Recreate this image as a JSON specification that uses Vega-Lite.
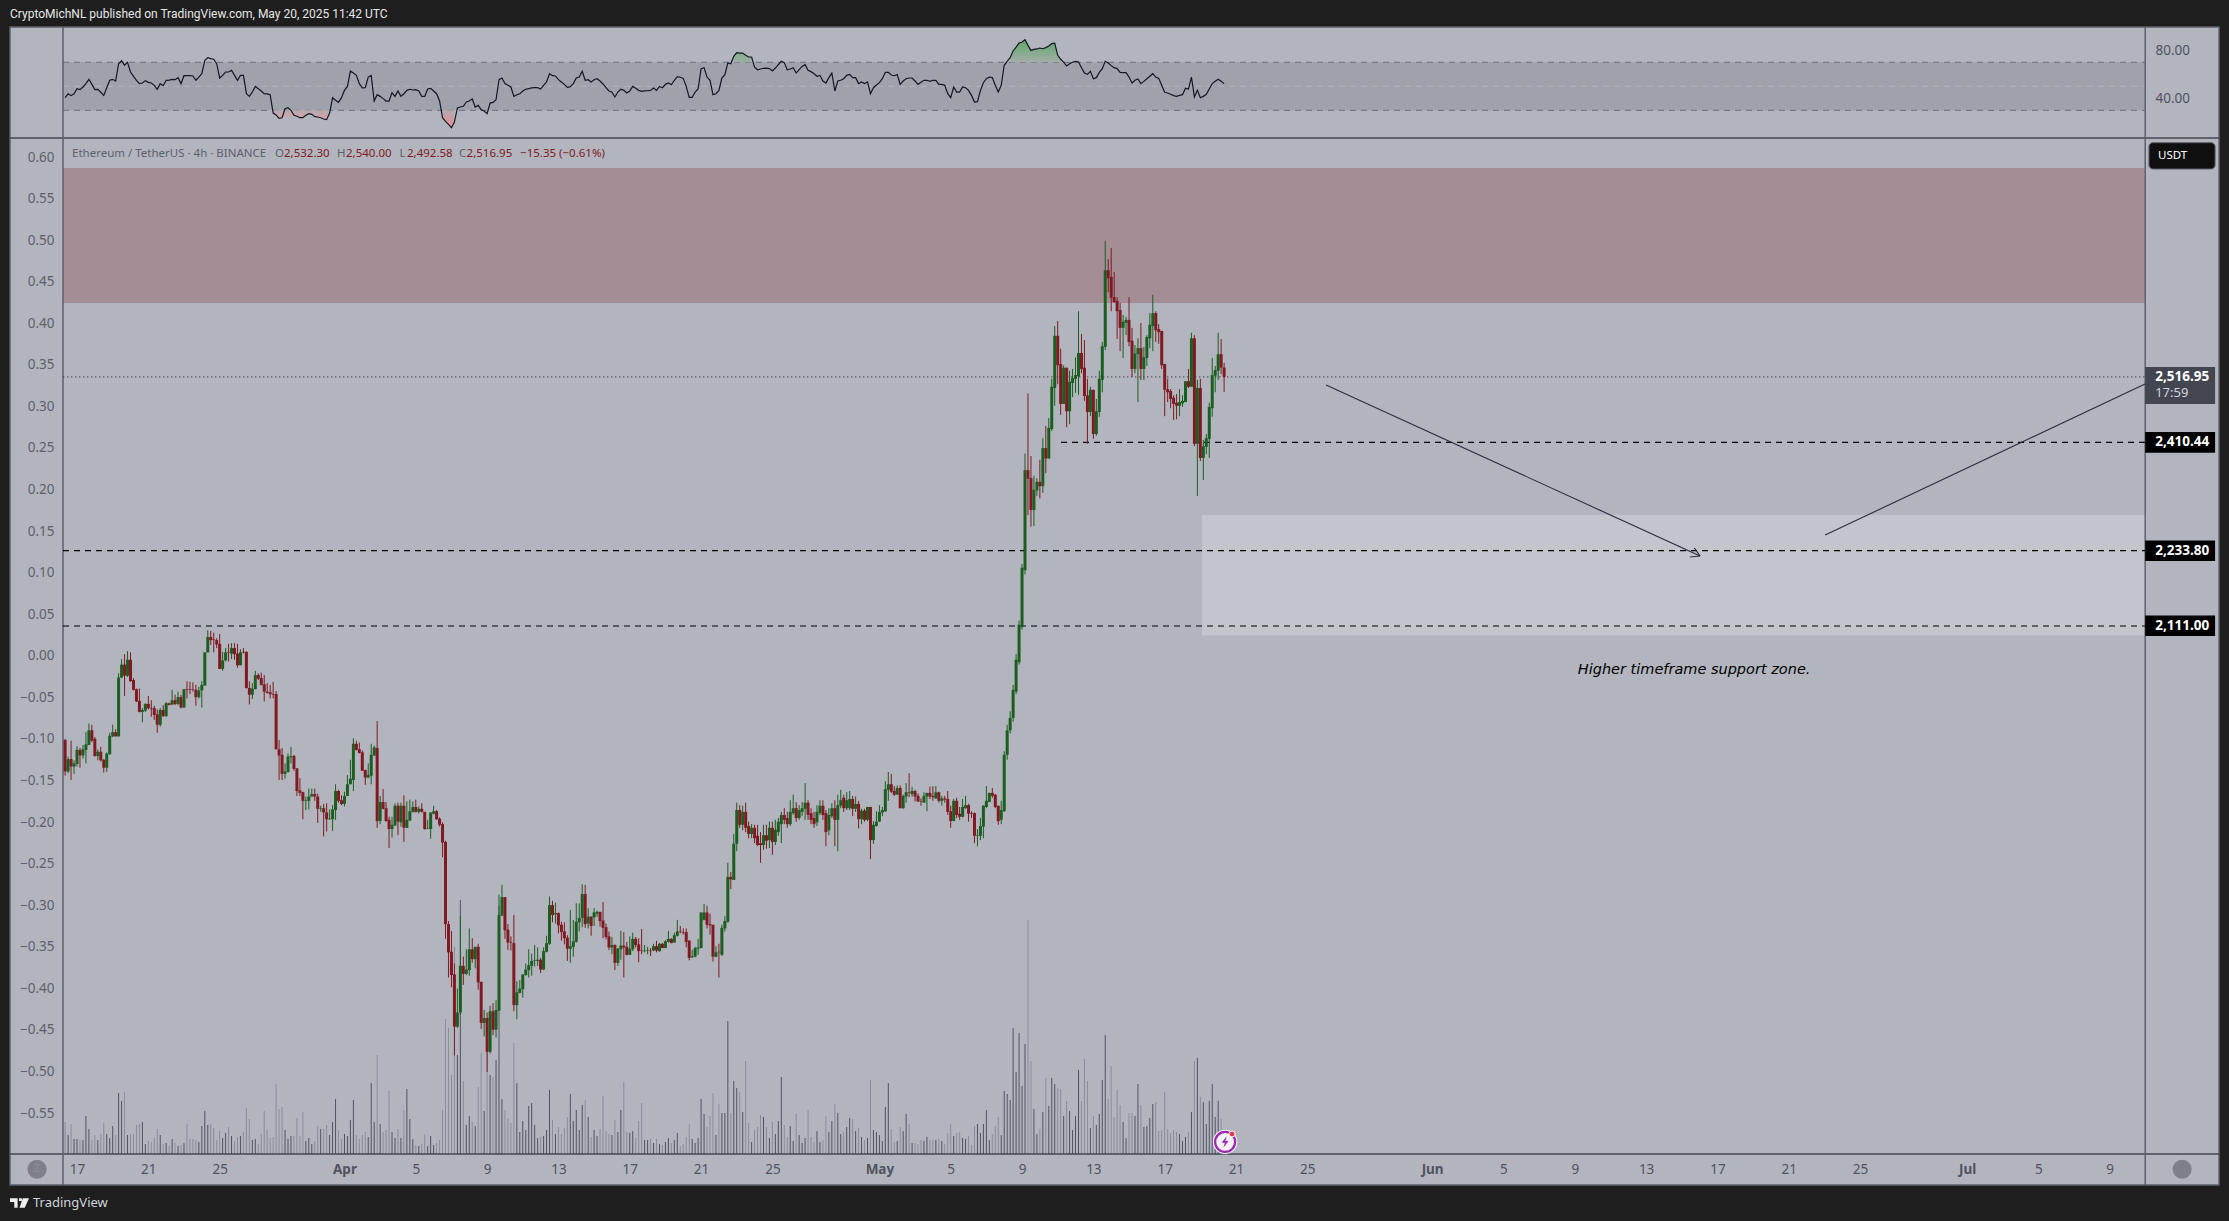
{"$schema":"https://vega.github.io/schema/vega-lite/v6.json","width":2229,"height":1221,"padding":0,"autosize":{"type":"none"},"background":"#1e1e1e","config":{"view":{"stroke":null},"text":{"font":"Noto Sans"},"axis":{"labelFont":"Noto Sans"}},
"datasets":{"candles":[
{"t":"2025-03-16T08:00Z","o":1925,"h":1927,"l":1867,"c":1874,"v":32,"r":40.5},
{"t":"2025-03-16T12:00Z","o":1874,"h":1898,"l":1871,"c":1894,"v":19,"r":43.8},
{"t":"2025-03-16T16:00Z","o":1894,"h":1924,"l":1860,"c":1882,"v":30,"r":42.2},
{"t":"2025-03-16T20:00Z","o":1882,"h":1892,"l":1870,"c":1887,"v":15,"r":43.8},
{"t":"2025-03-17T00:00Z","o":1886,"h":1915,"l":1882,"c":1909,"v":15,"r":48},
{"t":"2025-03-17T04:00Z","o":1909,"h":1912,"l":1880,"c":1900,"v":14,"r":47.2},
{"t":"2025-03-17T08:00Z","o":1900,"h":1917,"l":1895,"c":1910,"v":14,"r":49.4},
{"t":"2025-03-17T12:00Z","o":1909,"h":1938,"l":1887,"c":1918,"v":38,"r":52.2},
{"t":"2025-03-17T16:00Z","o":1917,"h":1952,"l":1917,"c":1941,"v":25,"r":55.8},
{"t":"2025-03-17T20:00Z","o":1941,"h":1950,"l":1922,"c":1924,"v":14,"r":51.6},
{"t":"2025-03-18T00:00Z","o":1927,"h":1930,"l":1898,"c":1899,"v":19,"r":47.2},
{"t":"2025-03-18T04:00Z","o":1899,"h":1910,"l":1892,"c":1906,"v":14,"r":47.5},
{"t":"2025-03-18T08:00Z","o":1906,"h":1914,"l":1890,"c":1892,"v":20,"r":45},
{"t":"2025-03-18T12:00Z","o":1893,"h":1894,"l":1872,"c":1880,"v":31,"r":42.4},
{"t":"2025-03-18T16:00Z","o":1880,"h":1905,"l":1873,"c":1903,"v":20,"r":48.8},
{"t":"2025-03-18T20:00Z","o":1902,"h":1937,"l":1901,"c":1932,"v":16,"r":55},
{"t":"2025-03-19T00:00Z","o":1931,"h":1950,"l":1930,"c":1938,"v":28,"r":55.8},
{"t":"2025-03-19T04:00Z","o":1938,"h":1943,"l":1931,"c":1931,"v":19,"r":54.4},
{"t":"2025-03-19T08:00Z","o":1931,"h":2034,"l":1931,"c":2027,"v":61,"r":68.8},
{"t":"2025-03-19T12:00Z","o":2027,"h":2057,"l":2026,"c":2048,"v":53,"r":71.3},
{"t":"2025-03-19T16:00Z","o":2048,"h":2065,"l":1997,"c":2030,"v":62,"r":67.5},
{"t":"2025-03-19T20:00Z","o":2030,"h":2070,"l":2028,"c":2056,"v":19,"r":70},
{"t":"2025-03-20T00:00Z","o":2056,"h":2068,"l":2020,"c":2021,"v":20,"r":61.9},
{"t":"2025-03-20T04:00Z","o":2023,"h":2026,"l":2006,"c":2007,"v":20,"r":58.3},
{"t":"2025-03-20T08:00Z","o":2008,"h":2009,"l":1987,"c":1988,"v":29,"r":55},
{"t":"2025-03-20T12:00Z","o":1989,"h":2009,"l":1970,"c":1971,"v":30,"r":52.2},
{"t":"2025-03-20T16:00Z","o":1971,"h":1977,"l":1954,"c":1974,"v":32,"r":52.7},
{"t":"2025-03-20T20:00Z","o":1973,"h":1985,"l":1971,"c":1984,"v":10,"r":54.7},
{"t":"2025-03-21T00:00Z","o":1984,"h":1997,"l":1975,"c":1977,"v":13,"r":53.3},
{"t":"2025-03-21T04:00Z","o":1977,"h":1990,"l":1963,"c":1976,"v":12,"r":52.7},
{"t":"2025-03-21T08:00Z","o":1977,"h":1981,"l":1958,"c":1966,"v":16,"r":50.8},
{"t":"2025-03-21T12:00Z","o":1967,"h":1975,"l":1937,"c":1950,"v":25,"r":47.5},
{"t":"2025-03-21T16:00Z","o":1950,"h":1977,"l":1947,"c":1974,"v":19,"r":52.2},
{"t":"2025-03-21T20:00Z","o":1974,"h":1982,"l":1963,"c":1964,"v":10,"r":50.5},
{"t":"2025-03-22T00:00Z","o":1964,"h":1987,"l":1963,"c":1985,"v":11,"r":55},
{"t":"2025-03-22T04:00Z","o":1985,"h":1986,"l":1982,"c":1982,"v":8,"r":55.2},
{"t":"2025-03-22T08:00Z","o":1983,"h":2007,"l":1982,"c":1990,"v":15,"r":55.8},
{"t":"2025-03-22T12:00Z","o":1990,"h":1999,"l":1982,"c":1984,"v":11,"r":55.5},
{"t":"2025-03-22T16:00Z","o":1984,"h":2004,"l":1982,"c":1995,"v":8,"r":57.2},
{"t":"2025-03-22T20:00Z","o":1995,"h":1999,"l":1977,"c":1978,"v":9,"r":52.2},
{"t":"2025-03-23T00:00Z","o":1978,"h":2008,"l":1978,"c":2008,"v":11,"r":58.8},
{"t":"2025-03-23T04:00Z","o":2008,"h":2021,"l":1993,"c":2007,"v":30,"r":58.8},
{"t":"2025-03-23T08:00Z","o":2008,"h":2020,"l":2000,"c":2007,"v":15,"r":58.8},
{"t":"2025-03-23T12:00Z","o":2008,"h":2019,"l":2004,"c":2007,"v":15,"r":58.6},
{"t":"2025-03-23T16:00Z","o":2007,"h":2015,"l":1981,"c":1995,"v":14,"r":55},
{"t":"2025-03-23T20:00Z","o":1995,"h":2012,"l":1993,"c":2006,"v":12,"r":57.7},
{"t":"2025-03-24T00:00Z","o":2006,"h":2021,"l":1978,"c":2015,"v":28,"r":60.5},
{"t":"2025-03-24T04:00Z","o":2014,"h":2068,"l":2014,"c":2068,"v":43,"r":71.6},
{"t":"2025-03-24T08:00Z","o":2068,"h":2104,"l":2068,"c":2093,"v":29,"r":73.8},
{"t":"2025-03-24T12:00Z","o":2093,"h":2103,"l":2080,"c":2088,"v":30,"r":73},
{"t":"2025-03-24T16:00Z","o":2089,"h":2100,"l":2068,"c":2088,"v":26,"r":72.5},
{"t":"2025-03-24T20:00Z","o":2088,"h":2091,"l":2075,"c":2081,"v":14,"r":68.8},
{"t":"2025-03-25T00:00Z","o":2082,"h":2098,"l":2041,"c":2041,"v":23,"r":56.9},
{"t":"2025-03-25T04:00Z","o":2041,"h":2069,"l":2038,"c":2055,"v":16,"r":59.1},
{"t":"2025-03-25T08:00Z","o":2055,"h":2075,"l":2053,"c":2068,"v":21,"r":61.9},
{"t":"2025-03-25T12:00Z","o":2068,"h":2082,"l":2053,"c":2067,"v":27,"r":61.9},
{"t":"2025-03-25T16:00Z","o":2066,"h":2083,"l":2057,"c":2075,"v":18,"r":63.3},
{"t":"2025-03-25T20:00Z","o":2075,"h":2083,"l":2056,"c":2065,"v":13,"r":59.1},
{"t":"2025-03-26T00:00Z","o":2066,"h":2082,"l":2043,"c":2047,"v":17,"r":55},
{"t":"2025-03-26T04:00Z","o":2047,"h":2073,"l":2047,"c":2068,"v":18,"r":59.1},
{"t":"2025-03-26T08:00Z","o":2069,"h":2075,"l":2066,"c":2068,"v":22,"r":59.1},
{"t":"2025-03-26T12:00Z","o":2069,"h":2069,"l":2009,"c":2010,"v":46,"r":43.8},
{"t":"2025-03-26T16:00Z","o":2010,"h":2021,"l":1983,"c":1999,"v":35,"r":41.6},
{"t":"2025-03-26T20:00Z","o":1999,"h":2018,"l":1992,"c":2009,"v":14,"r":45.2},
{"t":"2025-03-27T00:00Z","o":2008,"h":2038,"l":2008,"c":2031,"v":15,"r":49.9},
{"t":"2025-03-27T04:00Z","o":2031,"h":2034,"l":2023,"c":2025,"v":10,"r":48},
{"t":"2025-03-27T08:00Z","o":2026,"h":2035,"l":2014,"c":2015,"v":20,"r":46.1},
{"t":"2025-03-27T12:00Z","o":2016,"h":2031,"l":1988,"c":2004,"v":43,"r":43.8},
{"t":"2025-03-27T16:00Z","o":2004,"h":2018,"l":2001,"c":2002,"v":24,"r":43.6},
{"t":"2025-03-27T20:00Z","o":2003,"h":2015,"l":1993,"c":2000,"v":16,"r":43},
{"t":"2025-03-28T00:00Z","o":2000,"h":2020,"l":1993,"c":1999,"v":17,"r":27.7},
{"t":"2025-03-28T04:00Z","o":2000,"h":2005,"l":1910,"c":1910,"v":70,"r":26.1},
{"t":"2025-03-28T08:00Z","o":1910,"h":1925,"l":1860,"c":1900,"v":45,"r":23.3},
{"t":"2025-03-28T12:00Z","o":1901,"h":1912,"l":1860,"c":1870,"v":47,"r":23.8},
{"t":"2025-03-28T16:00Z","o":1870,"h":1887,"l":1862,"c":1874,"v":24,"r":31.3},
{"t":"2025-03-28T20:00Z","o":1873,"h":1903,"l":1872,"c":1898,"v":15,"r":32.2},
{"t":"2025-03-29T00:00Z","o":1897,"h":1914,"l":1887,"c":1899,"v":18,"r":30},
{"t":"2025-03-29T04:00Z","o":1899,"h":1901,"l":1875,"c":1878,"v":18,"r":25.8},
{"t":"2025-03-29T08:00Z","o":1879,"h":1879,"l":1834,"c":1842,"v":36,"r":25},
{"t":"2025-03-29T12:00Z","o":1843,"h":1863,"l":1834,"c":1839,"v":18,"r":23.8},
{"t":"2025-03-29T16:00Z","o":1840,"h":1841,"l":1796,"c":1826,"v":42,"r":23.8},
{"t":"2025-03-29T20:00Z","o":1826,"h":1833,"l":1811,"c":1827,"v":13,"r":25.8},
{"t":"2025-03-30T00:00Z","o":1826,"h":1846,"l":1812,"c":1833,"v":16,"r":27.2},
{"t":"2025-03-30T04:00Z","o":1833,"h":1846,"l":1833,"c":1837,"v":10,"r":26.6},
{"t":"2025-03-30T08:00Z","o":1837,"h":1846,"l":1826,"c":1833,"v":13,"r":24.7},
{"t":"2025-03-30T12:00Z","o":1833,"h":1838,"l":1790,"c":1813,"v":28,"r":24.4},
{"t":"2025-03-30T16:00Z","o":1813,"h":1818,"l":1808,"c":1814,"v":25,"r":23.8},
{"t":"2025-03-30T20:00Z","o":1814,"h":1821,"l":1768,"c":1807,"v":25,"r":22.7},
{"t":"2025-03-31T00:00Z","o":1807,"h":1822,"l":1776,"c":1796,"v":29,"r":22.2},
{"t":"2025-03-31T04:00Z","o":1796,"h":1812,"l":1795,"c":1797,"v":19,"r":27.7},
{"t":"2025-03-31T08:00Z","o":1796,"h":1819,"l":1777,"c":1812,"v":32,"r":40.5},
{"t":"2025-03-31T12:00Z","o":1811,"h":1853,"l":1795,"c":1842,"v":55,"r":38.3},
{"t":"2025-03-31T16:00Z","o":1842,"h":1844,"l":1823,"c":1826,"v":24,"r":36.6},
{"t":"2025-03-31T20:00Z","o":1827,"h":1835,"l":1819,"c":1821,"v":15,"r":40.5},
{"t":"2025-04-01T00:00Z","o":1821,"h":1841,"l":1817,"c":1834,"v":20,"r":46.6},
{"t":"2025-04-01T04:00Z","o":1834,"h":1868,"l":1834,"c":1853,"v":18,"r":49.9},
{"t":"2025-04-01T08:00Z","o":1853,"h":1893,"l":1853,"c":1862,"v":34,"r":62.7},
{"t":"2025-04-01T12:00Z","o":1860,"h":1928,"l":1842,"c":1919,"v":54,"r":61},
{"t":"2025-04-01T16:00Z","o":1919,"h":1924,"l":1908,"c":1909,"v":19,"r":59.1},
{"t":"2025-04-01T20:00Z","o":1910,"h":1921,"l":1903,"c":1904,"v":15,"r":52.2},
{"t":"2025-04-02T00:00Z","o":1905,"h":1908,"l":1875,"c":1875,"v":19,"r":48.6},
{"t":"2025-04-02T04:00Z","o":1876,"h":1877,"l":1852,"c":1864,"v":22,"r":48.8},
{"t":"2025-04-02T08:00Z","o":1864,"h":1887,"l":1863,"c":1868,"v":17,"r":57.7},
{"t":"2025-04-02T12:00Z","o":1867,"h":1919,"l":1853,"c":1901,"v":71,"r":59.1},
{"t":"2025-04-02T16:00Z","o":1900,"h":1916,"l":1899,"c":1913,"v":32,"r":37.7},
{"t":"2025-04-02T20:00Z","o":1912,"h":1956,"l":1782,"c":1793,"v":99,"r":43},
{"t":"2025-04-03T00:00Z","o":1793,"h":1834,"l":1788,"c":1824,"v":30,"r":41.6},
{"t":"2025-04-03T04:00Z","o":1824,"h":1845,"l":1812,"c":1813,"v":22,"r":39.7},
{"t":"2025-04-03T08:00Z","o":1814,"h":1824,"l":1792,"c":1793,"v":24,"r":37.7},
{"t":"2025-04-03T12:00Z","o":1795,"h":1800,"l":1749,"c":1780,"v":63,"r":37.7},
{"t":"2025-04-03T16:00Z","o":1780,"h":1800,"l":1766,"c":1787,"v":22,"r":44.7},
{"t":"2025-04-03T20:00Z","o":1786,"h":1822,"l":1785,"c":1818,"v":16,"r":41.6},
{"t":"2025-04-04T00:00Z","o":1818,"h":1823,"l":1770,"c":1792,"v":25,"r":46.1},
{"t":"2025-04-04T04:00Z","o":1791,"h":1823,"l":1784,"c":1818,"v":16,"r":41.6},
{"t":"2025-04-04T08:00Z","o":1818,"h":1835,"l":1759,"c":1782,"v":44,"r":43.8},
{"t":"2025-04-04T12:00Z","o":1782,"h":1825,"l":1782,"c":1795,"v":65,"r":46.6},
{"t":"2025-04-04T16:00Z","o":1794,"h":1828,"l":1793,"c":1809,"v":35,"r":47.5},
{"t":"2025-04-04T20:00Z","o":1808,"h":1825,"l":1807,"c":1816,"v":15,"r":46.9},
{"t":"2025-04-05T00:00Z","o":1816,"h":1828,"l":1807,"c":1808,"v":9,"r":47.2},
{"t":"2025-04-05T04:00Z","o":1808,"h":1817,"l":1805,"c":1813,"v":8,"r":46.1},
{"t":"2025-04-05T08:00Z","o":1813,"h":1822,"l":1807,"c":1808,"v":10,"r":41.6},
{"t":"2025-04-05T12:00Z","o":1808,"h":1808,"l":1779,"c":1780,"v":20,"r":41.6},
{"t":"2025-04-05T16:00Z","o":1780,"h":1795,"l":1780,"c":1781,"v":8,"r":47.7},
{"t":"2025-04-05T20:00Z","o":1780,"h":1807,"l":1764,"c":1807,"v":18,"r":48.3},
{"t":"2025-04-06T00:00Z","o":1805,"h":1818,"l":1804,"c":1809,"v":9,"r":46.1},
{"t":"2025-04-06T04:00Z","o":1809,"h":1811,"l":1795,"c":1796,"v":11,"r":43.8},
{"t":"2025-04-06T08:00Z","o":1797,"h":1799,"l":1784,"c":1787,"v":14,"r":37.7},
{"t":"2025-04-06T12:00Z","o":1788,"h":1791,"l":1734,"c":1758,"v":44,"r":23.8},
{"t":"2025-04-06T16:00Z","o":1759,"h":1761,"l":1601,"c":1625,"v":135,"r":20.8},
{"t":"2025-04-06T20:00Z","o":1625,"h":1630,"l":1538,"c":1579,"v":126,"r":18.3},
{"t":"2025-04-07T00:00Z","o":1580,"h":1614,"l":1522,"c":1542,"v":79,"r":15.5},
{"t":"2025-04-07T04:00Z","o":1543,"h":1561,"l":1411,"c":1458,"v":207,"r":20.2},
{"t":"2025-04-07T08:00Z","o":1458,"h":1520,"l":1456,"c":1481,"v":99,"r":31.9},
{"t":"2025-04-07T12:00Z","o":1481,"h":1638,"l":1477,"c":1557,"v":254,"r":32.7},
{"t":"2025-04-07T16:00Z","o":1557,"h":1572,"l":1526,"c":1544,"v":73,"r":33.3},
{"t":"2025-04-07T20:00Z","o":1544,"h":1584,"l":1542,"c":1551,"v":29,"r":36.9},
{"t":"2025-04-08T00:00Z","o":1550,"h":1618,"l":1541,"c":1584,"v":38,"r":37.7},
{"t":"2025-04-08T04:00Z","o":1584,"h":1602,"l":1562,"c":1568,"v":32,"r":39.4},
{"t":"2025-04-08T08:00Z","o":1568,"h":1588,"l":1553,"c":1588,"v":28,"r":32.7},
{"t":"2025-04-08T12:00Z","o":1588,"h":1593,"l":1518,"c":1530,"v":67,"r":34.1},
{"t":"2025-04-08T16:00Z","o":1531,"h":1531,"l":1454,"c":1464,"v":101,"r":30.5},
{"t":"2025-04-08T20:00Z","o":1464,"h":1485,"l":1442,"c":1472,"v":43,"r":29.4},
{"t":"2025-04-09T00:00Z","o":1472,"h":1481,"l":1384,"c":1417,"v":120,"r":27.2},
{"t":"2025-04-09T04:00Z","o":1417,"h":1492,"l":1414,"c":1483,"v":79,"r":36},
{"t":"2025-04-09T08:00Z","o":1483,"h":1496,"l":1444,"c":1453,"v":77,"r":36.6},
{"t":"2025-04-09T12:00Z","o":1453,"h":1501,"l":1440,"c":1485,"v":94,"r":38.8},
{"t":"2025-04-09T16:00Z","o":1484,"h":1673,"l":1484,"c":1640,"v":248,"r":55.5},
{"t":"2025-04-09T20:00Z","o":1639,"h":1689,"l":1638,"c":1669,"v":55,"r":56.9},
{"t":"2025-04-10T00:00Z","o":1669,"h":1669,"l":1601,"c":1615,"v":44,"r":52.2},
{"t":"2025-04-10T04:00Z","o":1616,"h":1625,"l":1583,"c":1595,"v":36,"r":50.8},
{"t":"2025-04-10T08:00Z","o":1596,"h":1605,"l":1582,"c":1595,"v":31,"r":49.4},
{"t":"2025-04-10T12:00Z","o":1594,"h":1640,"l":1483,"c":1493,"v":111,"r":41.6},
{"t":"2025-04-10T16:00Z","o":1493,"h":1532,"l":1470,"c":1514,"v":71,"r":43},
{"t":"2025-04-10T20:00Z","o":1513,"h":1534,"l":1512,"c":1520,"v":22,"r":43.8},
{"t":"2025-04-11T00:00Z","o":1519,"h":1543,"l":1505,"c":1543,"v":33,"r":46.1},
{"t":"2025-04-11T04:00Z","o":1542,"h":1561,"l":1541,"c":1551,"v":24,"r":47.5},
{"t":"2025-04-11T08:00Z","o":1550,"h":1584,"l":1538,"c":1558,"v":48,"r":48},
{"t":"2025-04-11T12:00Z","o":1557,"h":1577,"l":1541,"c":1565,"v":51,"r":48.6},
{"t":"2025-04-11T16:00Z","o":1565,"h":1591,"l":1556,"c":1566,"v":29,"r":48.8},
{"t":"2025-04-11T20:00Z","o":1565,"h":1587,"l":1557,"c":1567,"v":16,"r":48.8},
{"t":"2025-04-12T00:00Z","o":1567,"h":1570,"l":1545,"c":1551,"v":17,"r":47.7},
{"t":"2025-04-12T04:00Z","o":1551,"h":1587,"l":1550,"c":1581,"v":18,"r":50.8},
{"t":"2025-04-12T08:00Z","o":1580,"h":1606,"l":1579,"c":1594,"v":24,"r":53.6},
{"t":"2025-04-12T12:00Z","o":1593,"h":1670,"l":1591,"c":1656,"v":64,"r":60.5},
{"t":"2025-04-12T16:00Z","o":1656,"h":1663,"l":1628,"c":1640,"v":34,"r":58.8},
{"t":"2025-04-12T20:00Z","o":1641,"h":1660,"l":1626,"c":1643,"v":20,"r":58.6},
{"t":"2025-04-13T00:00Z","o":1643,"h":1644,"l":1610,"c":1623,"v":27,"r":55.5},
{"t":"2025-04-13T04:00Z","o":1624,"h":1629,"l":1598,"c":1612,"v":20,"r":53.6},
{"t":"2025-04-13T08:00Z","o":1613,"h":1628,"l":1592,"c":1602,"v":26,"r":51.6},
{"t":"2025-04-13T12:00Z","o":1603,"h":1607,"l":1565,"c":1585,"v":37,"r":49.1},
{"t":"2025-04-13T16:00Z","o":1585,"h":1648,"l":1562,"c":1589,"v":60,"r":49.7},
{"t":"2025-04-13T20:00Z","o":1588,"h":1632,"l":1572,"c":1597,"v":33,"r":52.2},
{"t":"2025-04-14T00:00Z","o":1596,"h":1659,"l":1595,"c":1629,"v":44,"r":56.9},
{"t":"2025-04-14T04:00Z","o":1628,"h":1659,"l":1613,"c":1635,"v":24,"r":57.7},
{"t":"2025-04-14T08:00Z","o":1635,"h":1690,"l":1620,"c":1674,"v":49,"r":62.5},
{"t":"2025-04-14T12:00Z","o":1674,"h":1689,"l":1619,"c":1625,"v":54,"r":55},
{"t":"2025-04-14T16:00Z","o":1626,"h":1651,"l":1618,"c":1637,"v":37,"r":55.5},
{"t":"2025-04-14T20:00Z","o":1637,"h":1638,"l":1606,"c":1622,"v":17,"r":53.6},
{"t":"2025-04-15T00:00Z","o":1636,"h":1651,"l":1622,"c":1644,"v":24,"r":55.5},
{"t":"2025-04-15T04:00Z","o":1642,"h":1647,"l":1637,"c":1645,"v":18,"r":56.3},
{"t":"2025-04-15T08:00Z","o":1645,"h":1645,"l":1621,"c":1630,"v":25,"r":54.4},
{"t":"2025-04-15T12:00Z","o":1631,"h":1661,"l":1602,"c":1619,"v":58,"r":51.9},
{"t":"2025-04-15T16:00Z","o":1620,"h":1626,"l":1600,"c":1604,"v":23,"r":48.8},
{"t":"2025-04-15T20:00Z","o":1605,"h":1613,"l":1583,"c":1587,"v":20,"r":46.1},
{"t":"2025-04-16T00:00Z","o":1587,"h":1604,"l":1576,"c":1591,"v":19,"r":45},
{"t":"2025-04-16T04:00Z","o":1591,"h":1592,"l":1550,"c":1562,"v":34,"r":41.1},
{"t":"2025-04-16T08:00Z","o":1562,"h":1586,"l":1557,"c":1585,"v":22,"r":45.2},
{"t":"2025-04-16T12:00Z","o":1584,"h":1614,"l":1567,"c":1590,"v":44,"r":47.5},
{"t":"2025-04-16T16:00Z","o":1590,"h":1612,"l":1538,"c":1587,"v":72,"r":46.6},
{"t":"2025-04-16T20:00Z","o":1588,"h":1596,"l":1574,"c":1575,"v":22,"r":44.4},
{"t":"2025-04-17T00:00Z","o":1575,"h":1605,"l":1575,"c":1585,"v":21,"r":46.1},
{"t":"2025-04-17T04:00Z","o":1584,"h":1611,"l":1581,"c":1601,"v":23,"r":49.9},
{"t":"2025-04-17T08:00Z","o":1601,"h":1604,"l":1587,"c":1591,"v":16,"r":48.3},
{"t":"2025-04-17T12:00Z","o":1592,"h":1602,"l":1563,"c":1581,"v":33,"r":46.6},
{"t":"2025-04-17T16:00Z","o":1582,"h":1617,"l":1576,"c":1581,"v":51,"r":45.8},
{"t":"2025-04-17T20:00Z","o":1581,"h":1591,"l":1579,"c":1582,"v":14,"r":46.1},
{"t":"2025-04-18T00:00Z","o":1582,"h":1588,"l":1576,"c":1583,"v":14,"r":46.3},
{"t":"2025-04-18T04:00Z","o":1582,"h":1586,"l":1573,"c":1581,"v":15,"r":46.6},
{"t":"2025-04-18T08:00Z","o":1582,"h":1593,"l":1581,"c":1589,"v":11,"r":48.6},
{"t":"2025-04-18T12:00Z","o":1589,"h":1598,"l":1579,"c":1582,"v":15,"r":46.6},
{"t":"2025-04-18T16:00Z","o":1581,"h":1594,"l":1580,"c":1593,"v":10,"r":49.9},
{"t":"2025-04-18T20:00Z","o":1593,"h":1594,"l":1586,"c":1586,"v":9,"r":48.8},
{"t":"2025-04-19T00:00Z","o":1586,"h":1599,"l":1586,"c":1597,"v":12,"r":51.6},
{"t":"2025-04-19T04:00Z","o":1596,"h":1614,"l":1595,"c":1601,"v":16,"r":52.7},
{"t":"2025-04-19T08:00Z","o":1601,"h":1602,"l":1594,"c":1594,"v":11,"r":51.3},
{"t":"2025-04-19T12:00Z","o":1595,"h":1611,"l":1595,"c":1607,"v":14,"r":55},
{"t":"2025-04-19T16:00Z","o":1606,"h":1632,"l":1605,"c":1613,"v":21,"r":58},
{"t":"2025-04-19T20:00Z","o":1613,"h":1622,"l":1610,"c":1612,"v":8,"r":57.5},
{"t":"2025-04-20T00:00Z","o":1612,"h":1618,"l":1608,"c":1611,"v":10,"r":56.6},
{"t":"2025-04-20T04:00Z","o":1612,"h":1618,"l":1587,"c":1596,"v":17,"r":49.9},
{"t":"2025-04-20T08:00Z","o":1598,"h":1599,"l":1566,"c":1570,"v":30,"r":40.8},
{"t":"2025-04-20T12:00Z","o":1571,"h":1583,"l":1570,"c":1573,"v":15,"r":40.8},
{"t":"2025-04-20T16:00Z","o":1572,"h":1588,"l":1571,"c":1586,"v":11,"r":45.2},
{"t":"2025-04-20T20:00Z","o":1585,"h":1601,"l":1575,"c":1587,"v":16,"r":47.7},
{"t":"2025-04-21T00:00Z","o":1586,"h":1644,"l":1586,"c":1644,"v":55,"r":64.7},
{"t":"2025-04-21T04:00Z","o":1632,"h":1658,"l":1631,"c":1644,"v":40,"r":65.5},
{"t":"2025-04-21T08:00Z","o":1644,"h":1655,"l":1618,"c":1624,"v":27,"r":57.7},
{"t":"2025-04-21T12:00Z","o":1625,"h":1642,"l":1608,"c":1623,"v":38,"r":55},
{"t":"2025-04-21T16:00Z","o":1624,"h":1624,"l":1564,"c":1572,"v":61,"r":43},
{"t":"2025-04-21T20:00Z","o":1572,"h":1589,"l":1571,"c":1579,"v":19,"r":43.8},
{"t":"2025-04-22T00:00Z","o":1580,"h":1593,"l":1538,"c":1579,"v":50,"r":46.6},
{"t":"2025-04-22T04:00Z","o":1575,"h":1624,"l":1573,"c":1619,"v":41,"r":56.9},
{"t":"2025-04-22T08:00Z","o":1618,"h":1638,"l":1613,"c":1630,"v":41,"r":59.7},
{"t":"2025-04-22T12:00Z","o":1629,"h":1725,"l":1627,"c":1702,"v":133,"r":69.4},
{"t":"2025-04-22T16:00Z","o":1702,"h":1710,"l":1682,"c":1698,"v":41,"r":68.8},
{"t":"2025-04-22T20:00Z","o":1697,"h":1772,"l":1697,"c":1756,"v":73,"r":75},
{"t":"2025-04-23T00:00Z","o":1756,"h":1823,"l":1744,"c":1811,"v":66,"r":78},
{"t":"2025-04-23T04:00Z","o":1811,"h":1819,"l":1782,"c":1787,"v":62,"r":77.7},
{"t":"2025-04-23T08:00Z","o":1787,"h":1818,"l":1778,"c":1808,"v":42,"r":77.7},
{"t":"2025-04-23T12:00Z","o":1808,"h":1823,"l":1775,"c":1782,"v":93,"r":75.8},
{"t":"2025-04-23T16:00Z","o":1785,"h":1792,"l":1765,"c":1772,"v":31,"r":74.4},
{"t":"2025-04-23T20:00Z","o":1772,"h":1788,"l":1765,"c":1782,"v":12,"r":74.4},
{"t":"2025-04-24T00:00Z","o":1782,"h":1787,"l":1757,"c":1765,"v":24,"r":66},
{"t":"2025-04-24T04:00Z","o":1769,"h":1787,"l":1752,"c":1754,"v":27,"r":63.8},
{"t":"2025-04-24T08:00Z","o":1757,"h":1775,"l":1725,"c":1754,"v":39,"r":64.4},
{"t":"2025-04-24T12:00Z","o":1754,"h":1787,"l":1746,"c":1770,"v":37,"r":65},
{"t":"2025-04-24T16:00Z","o":1770,"h":1787,"l":1748,"c":1761,"v":27,"r":65.2},
{"t":"2025-04-24T20:00Z","o":1762,"h":1792,"l":1749,"c":1782,"v":16,"r":64.7},
{"t":"2025-04-25T00:00Z","o":1782,"h":1792,"l":1738,"c":1759,"v":32,"r":62.7},
{"t":"2025-04-25T04:00Z","o":1759,"h":1795,"l":1754,"c":1779,"v":20,"r":65.2},
{"t":"2025-04-25T08:00Z","o":1775,"h":1798,"l":1769,"c":1792,"v":33,"r":68},
{"t":"2025-04-25T12:00Z","o":1788,"h":1808,"l":1757,"c":1803,"v":77,"r":70.8},
{"t":"2025-04-25T16:00Z","o":1803,"h":1814,"l":1788,"c":1795,"v":29,"r":69.7},
{"t":"2025-04-25T20:00Z","o":1798,"h":1808,"l":1782,"c":1788,"v":17,"r":63.8},
{"t":"2025-04-26T00:00Z","o":1788,"h":1827,"l":1785,"c":1808,"v":28,"r":64.4},
{"t":"2025-04-26T04:00Z","o":1806,"h":1836,"l":1803,"c":1814,"v":13,"r":65.5},
{"t":"2025-04-26T08:00Z","o":1814,"h":1824,"l":1792,"c":1798,"v":40,"r":61},
{"t":"2025-04-26T12:00Z","o":1798,"h":1819,"l":1795,"c":1811,"v":19,"r":63.8},
{"t":"2025-04-26T16:00Z","o":1808,"h":1824,"l":1801,"c":1814,"v":11,"r":66.6},
{"t":"2025-04-26T20:00Z","o":1813,"h":1855,"l":1795,"c":1823,"v":16,"r":68},
{"t":"2025-04-27T00:00Z","o":1823,"h":1827,"l":1795,"c":1803,"v":44,"r":63.3},
{"t":"2025-04-27T04:00Z","o":1806,"h":1814,"l":1788,"c":1795,"v":17,"r":62.2},
{"t":"2025-04-27T08:00Z","o":1798,"h":1808,"l":1782,"c":1788,"v":12,"r":60.5},
{"t":"2025-04-27T12:00Z","o":1791,"h":1819,"l":1785,"c":1808,"v":23,"r":58.3},
{"t":"2025-04-27T16:00Z","o":1806,"h":1827,"l":1803,"c":1818,"v":12,"r":59.1},
{"t":"2025-04-27T20:00Z","o":1818,"h":1827,"l":1795,"c":1803,"v":14,"r":54.4},
{"t":"2025-04-28T00:00Z","o":1806,"h":1811,"l":1752,"c":1775,"v":38,"r":52.7},
{"t":"2025-04-28T04:00Z","o":1778,"h":1814,"l":1770,"c":1803,"v":22,"r":57.2},
{"t":"2025-04-28T08:00Z","o":1801,"h":1822,"l":1798,"c":1814,"v":33,"r":61},
{"t":"2025-04-28T12:00Z","o":1814,"h":1827,"l":1752,"c":1795,"v":50,"r":46.1},
{"t":"2025-04-28T16:00Z","o":1795,"h":1836,"l":1744,"c":1819,"v":41,"r":54.4},
{"t":"2025-04-28T20:00Z","o":1818,"h":1844,"l":1814,"c":1827,"v":20,"r":55},
{"t":"2025-04-29T00:00Z","o":1831,"h":1836,"l":1808,"c":1814,"v":22,"r":56.3},
{"t":"2025-04-29T04:00Z","o":1814,"h":1840,"l":1811,"c":1827,"v":27,"r":59.1},
{"t":"2025-04-29T08:00Z","o":1814,"h":1842,"l":1811,"c":1829,"v":36,"r":59.9},
{"t":"2025-04-29T12:00Z","o":1829,"h":1834,"l":1801,"c":1813,"v":35,"r":57.2},
{"t":"2025-04-29T16:00Z","o":1813,"h":1833,"l":1808,"c":1821,"v":23,"r":57.2},
{"t":"2025-04-29T20:00Z","o":1821,"h":1826,"l":1781,"c":1796,"v":26,"r":52.2},
{"t":"2025-04-30T00:00Z","o":1796,"h":1813,"l":1788,"c":1810,"v":17,"r":53.6},
{"t":"2025-04-30T04:00Z","o":1810,"h":1813,"l":1792,"c":1795,"v":14,"r":52.2},
{"t":"2025-04-30T08:00Z","o":1795,"h":1816,"l":1793,"c":1816,"v":16,"r":53.6},
{"t":"2025-04-30T12:00Z","o":1816,"h":1816,"l":1731,"c":1762,"v":74,"r":43.8},
{"t":"2025-04-30T16:00Z","o":1762,"h":1793,"l":1756,"c":1787,"v":24,"r":48.8},
{"t":"2025-04-30T20:00Z","o":1785,"h":1809,"l":1784,"c":1792,"v":22,"r":51.1},
{"t":"2025-05-01T00:00Z","o":1792,"h":1819,"l":1792,"c":1808,"v":19,"r":53},
{"t":"2025-05-01T04:00Z","o":1807,"h":1816,"l":1801,"c":1811,"v":13,"r":56.3},
{"t":"2025-05-01T08:00Z","o":1809,"h":1858,"l":1808,"c":1845,"v":47,"r":61.6},
{"t":"2025-05-01T12:00Z","o":1844,"h":1873,"l":1826,"c":1853,"v":71,"r":61.6},
{"t":"2025-05-01T16:00Z","o":1853,"h":1870,"l":1839,"c":1841,"v":25,"r":59.4},
{"t":"2025-05-01T20:00Z","o":1842,"h":1850,"l":1834,"c":1836,"v":12,"r":58.8},
{"t":"2025-05-02T00:00Z","o":1836,"h":1851,"l":1836,"c":1847,"v":13,"r":59.7},
{"t":"2025-05-02T04:00Z","o":1847,"h":1851,"l":1814,"c":1814,"v":27,"r":51.6},
{"t":"2025-05-02T08:00Z","o":1814,"h":1836,"l":1813,"c":1834,"v":23,"r":54.4},
{"t":"2025-05-02T12:00Z","o":1833,"h":1855,"l":1823,"c":1840,"v":40,"r":56.3},
{"t":"2025-05-02T16:00Z","o":1840,"h":1871,"l":1832,"c":1839,"v":30,"r":56.9},
{"t":"2025-05-02T20:00Z","o":1837,"h":1849,"l":1833,"c":1842,"v":11,"r":56.9},
{"t":"2025-05-03T00:00Z","o":1842,"h":1844,"l":1825,"c":1833,"v":11,"r":54.4},
{"t":"2025-05-03T04:00Z","o":1834,"h":1838,"l":1824,"c":1825,"v":10,"r":51.6},
{"t":"2025-05-03T08:00Z","o":1825,"h":1830,"l":1818,"c":1824,"v":14,"r":53.3},
{"t":"2025-05-03T12:00Z","o":1823,"h":1840,"l":1823,"c":1834,"v":13,"r":55},
{"t":"2025-05-03T16:00Z","o":1833,"h":1839,"l":1809,"c":1839,"v":17,"r":55},
{"t":"2025-05-03T20:00Z","o":1839,"h":1849,"l":1829,"c":1833,"v":14,"r":54.1},
{"t":"2025-05-04T00:00Z","o":1834,"h":1850,"l":1826,"c":1832,"v":14,"r":55},
{"t":"2025-05-04T04:00Z","o":1830,"h":1850,"l":1829,"c":1840,"v":14,"r":55},
{"t":"2025-05-04T08:00Z","o":1840,"h":1841,"l":1823,"c":1826,"v":15,"r":51.6},
{"t":"2025-05-04T12:00Z","o":1826,"h":1834,"l":1818,"c":1830,"v":13,"r":51.6},
{"t":"2025-05-04T16:00Z","o":1830,"h":1834,"l":1823,"c":1828,"v":10,"r":50.8},
{"t":"2025-05-04T20:00Z","o":1829,"h":1842,"l":1803,"c":1808,"v":21,"r":43.8},
{"t":"2025-05-05T00:00Z","o":1809,"h":1818,"l":1782,"c":1793,"v":30,"r":40.5},
{"t":"2025-05-05T04:00Z","o":1793,"h":1829,"l":1793,"c":1826,"v":18,"r":49.4},
{"t":"2025-05-05T08:00Z","o":1826,"h":1831,"l":1798,"c":1803,"v":21,"r":45.2},
{"t":"2025-05-05T12:00Z","o":1805,"h":1816,"l":1795,"c":1800,"v":22,"r":45.2},
{"t":"2025-05-05T16:00Z","o":1800,"h":1829,"l":1799,"c":1816,"v":16,"r":49.4},
{"t":"2025-05-05T20:00Z","o":1814,"h":1834,"l":1813,"c":1819,"v":15,"r":48.8},
{"t":"2025-05-06T00:00Z","o":1819,"h":1821,"l":1792,"c":1805,"v":18,"r":46.6},
{"t":"2025-05-06T04:00Z","o":1806,"h":1809,"l":1798,"c":1805,"v":9,"r":42.4},
{"t":"2025-05-06T08:00Z","o":1806,"h":1807,"l":1757,"c":1769,"v":28,"r":36.9},
{"t":"2025-05-06T12:00Z","o":1769,"h":1780,"l":1752,"c":1770,"v":30,"r":37.2},
{"t":"2025-05-06T16:00Z","o":1769,"h":1798,"l":1762,"c":1785,"v":21,"r":46.6},
{"t":"2025-05-06T20:00Z","o":1784,"h":1819,"l":1765,"c":1818,"v":30,"r":53},
{"t":"2025-05-07T00:00Z","o":1816,"h":1850,"l":1814,"c":1826,"v":44,"r":56.3},
{"t":"2025-05-07T04:00Z","o":1824,"h":1839,"l":1824,"c":1839,"v":14,"r":57.7},
{"t":"2025-05-07T08:00Z","o":1839,"h":1847,"l":1831,"c":1834,"v":20,"r":57.2},
{"t":"2025-05-07T12:00Z","o":1836,"h":1837,"l":1814,"c":1816,"v":28,"r":50.8},
{"t":"2025-05-07T16:00Z","o":1818,"h":1818,"l":1787,"c":1793,"v":37,"r":45.2},
{"t":"2025-05-07T20:00Z","o":1795,"h":1826,"l":1788,"c":1811,"v":19,"r":50.8},
{"t":"2025-05-08T00:00Z","o":1809,"h":1907,"l":1808,"c":1901,"v":63,"r":67.5},
{"t":"2025-05-08T04:00Z","o":1901,"h":1950,"l":1893,"c":1941,"v":60,"r":70.8},
{"t":"2025-05-08T08:00Z","o":1941,"h":1972,"l":1936,"c":1961,"v":54,"r":73.8},
{"t":"2025-05-08T12:00Z","o":1961,"h":2015,"l":1955,"c":2007,"v":126,"r":79.4},
{"t":"2025-05-08T16:00Z","o":2004,"h":2065,"l":2000,"c":2056,"v":82,"r":82.7},
{"t":"2025-05-08T20:00Z","o":2052,"h":2120,"l":2048,"c":2113,"v":121,"r":86},
{"t":"2025-05-09T00:00Z","o":2109,"h":2212,"l":2105,"c":2206,"v":68,"r":86.9},
{"t":"2025-05-09T04:00Z","o":2202,"h":2392,"l":2195,"c":2365,"v":110,"r":88.8},
{"t":"2025-05-09T08:00Z","o":2365,"h":2490,"l":2292,"c":2351,"v":234,"r":84.1},
{"t":"2025-05-09T12:00Z","o":2352,"h":2388,"l":2273,"c":2300,"v":93,"r":79.9},
{"t":"2025-05-09T16:00Z","o":2300,"h":2356,"l":2274,"c":2333,"v":45,"r":80.8},
{"t":"2025-05-09T20:00Z","o":2332,"h":2352,"l":2323,"c":2346,"v":20,"r":81.1},
{"t":"2025-05-10T00:00Z","o":2346,"h":2382,"l":2319,"c":2339,"v":25,"r":81.9},
{"t":"2025-05-10T04:00Z","o":2339,"h":2417,"l":2328,"c":2401,"v":42,"r":81.3},
{"t":"2025-05-10T08:00Z","o":2401,"h":2437,"l":2360,"c":2384,"v":76,"r":82.2},
{"t":"2025-05-10T12:00Z","o":2384,"h":2450,"l":2384,"c":2434,"v":48,"r":83.6},
{"t":"2025-05-10T16:00Z","o":2432,"h":2514,"l":2429,"c":2501,"v":76,"r":85.5},
{"t":"2025-05-10T20:00Z","o":2499,"h":2600,"l":2470,"c":2584,"v":70,"r":86},
{"t":"2025-05-11T00:00Z","o":2584,"h":2608,"l":2505,"c":2536,"v":66,"r":75.8},
{"t":"2025-05-11T04:00Z","o":2538,"h":2563,"l":2455,"c":2473,"v":65,"r":72.5},
{"t":"2025-05-11T08:00Z","o":2473,"h":2536,"l":2473,"c":2532,"v":38,"r":70.2},
{"t":"2025-05-11T12:00Z","o":2532,"h":2532,"l":2435,"c":2461,"v":53,"r":66.9},
{"t":"2025-05-11T16:00Z","o":2461,"h":2527,"l":2440,"c":2509,"v":43,"r":68.8},
{"t":"2025-05-11T20:00Z","o":2507,"h":2530,"l":2484,"c":2515,"v":24,"r":70},
{"t":"2025-05-12T00:00Z","o":2514,"h":2549,"l":2491,"c":2520,"v":38,"r":70.8},
{"t":"2025-05-12T04:00Z","o":2518,"h":2624,"l":2488,"c":2556,"v":84,"r":70.2},
{"t":"2025-05-12T08:00Z","o":2556,"h":2587,"l":2523,"c":2530,"v":53,"r":65.5},
{"t":"2025-05-12T12:00Z","o":2532,"h":2577,"l":2478,"c":2486,"v":95,"r":61},
{"t":"2025-05-12T16:00Z","o":2487,"h":2514,"l":2408,"c":2460,"v":73,"r":59.9},
{"t":"2025-05-12T20:00Z","o":2460,"h":2501,"l":2453,"c":2496,"v":26,"r":62.5},
{"t":"2025-05-13T00:00Z","o":2496,"h":2496,"l":2416,"c":2424,"v":38,"r":56.3},
{"t":"2025-05-13T04:00Z","o":2424,"h":2481,"l":2421,"c":2461,"v":29,"r":57.2},
{"t":"2025-05-13T08:00Z","o":2460,"h":2527,"l":2452,"c":2514,"v":40,"r":61.6},
{"t":"2025-05-13T12:00Z","o":2512,"h":2574,"l":2492,"c":2567,"v":74,"r":64.7},
{"t":"2025-05-13T16:00Z","o":2566,"h":2739,"l":2561,"c":2691,"v":119,"r":70.8},
{"t":"2025-05-13T20:00Z","o":2691,"h":2709,"l":2655,"c":2678,"v":55,"r":69.4},
{"t":"2025-05-14T00:00Z","o":2680,"h":2727,"l":2624,"c":2646,"v":88,"r":67.2},
{"t":"2025-05-14T04:00Z","o":2647,"h":2688,"l":2638,"c":2639,"v":37,"r":65.5},
{"t":"2025-05-14T08:00Z","o":2641,"h":2647,"l":2579,"c":2624,"v":64,"r":64.7},
{"t":"2025-05-14T12:00Z","o":2626,"h":2638,"l":2559,"c":2597,"v":49,"r":61.6},
{"t":"2025-05-14T16:00Z","o":2597,"h":2618,"l":2548,"c":2607,"v":32,"r":61.3},
{"t":"2025-05-14T20:00Z","o":2605,"h":2615,"l":2585,"c":2610,"v":16,"r":61.3},
{"t":"2025-05-15T00:00Z","o":2610,"h":2647,"l":2567,"c":2574,"v":41,"r":57.7},
{"t":"2025-05-15T04:00Z","o":2576,"h":2597,"l":2517,"c":2530,"v":41,"r":52.7},
{"t":"2025-05-15T08:00Z","o":2530,"h":2569,"l":2523,"c":2555,"v":38,"r":55},
{"t":"2025-05-15T12:00Z","o":2554,"h":2580,"l":2476,"c":2564,"v":70,"r":56.1},
{"t":"2025-05-15T16:00Z","o":2564,"h":2605,"l":2512,"c":2530,"v":49,"r":52.2},
{"t":"2025-05-15T20:00Z","o":2530,"h":2566,"l":2512,"c":2549,"v":27,"r":54.1},
{"t":"2025-05-16T00:00Z","o":2548,"h":2585,"l":2535,"c":2582,"v":28,"r":56.3},
{"t":"2025-05-16T04:00Z","o":2580,"h":2621,"l":2564,"c":2602,"v":36,"r":58.3},
{"t":"2025-05-16T08:00Z","o":2600,"h":2651,"l":2559,"c":2621,"v":50,"r":60.5},
{"t":"2025-05-16T12:00Z","o":2621,"h":2624,"l":2574,"c":2593,"v":52,"r":57.7},
{"t":"2025-05-16T16:00Z","o":2595,"h":2603,"l":2571,"c":2590,"v":23,"r":56.6},
{"t":"2025-05-16T20:00Z","o":2592,"h":2592,"l":2530,"c":2536,"v":24,"r":50.8},
{"t":"2025-05-17T00:00Z","o":2538,"h":2538,"l":2453,"c":2496,"v":62,"r":45},
{"t":"2025-05-17T04:00Z","o":2497,"h":2514,"l":2476,"c":2492,"v":25,"r":44.4},
{"t":"2025-05-17T08:00Z","o":2494,"h":2497,"l":2466,"c":2481,"v":21,"r":43.3},
{"t":"2025-05-17T12:00Z","o":2483,"h":2487,"l":2447,"c":2473,"v":24,"r":42.2},
{"t":"2025-05-17T16:00Z","o":2475,"h":2489,"l":2448,"c":2470,"v":22,"r":41.6},
{"t":"2025-05-17T20:00Z","o":2470,"h":2497,"l":2453,"c":2476,"v":20,"r":42.4},
{"t":"2025-05-18T00:00Z","o":2474,"h":2487,"l":2468,"c":2478,"v":13,"r":43},
{"t":"2025-05-18T04:00Z","o":2476,"h":2510,"l":2476,"c":2510,"v":17,"r":48.3},
{"t":"2025-05-18T08:00Z","o":2510,"h":2530,"l":2499,"c":2501,"v":22,"r":47.7},
{"t":"2025-05-18T12:00Z","o":2501,"h":2589,"l":2501,"c":2580,"v":42,"r":57.7},
{"t":"2025-05-18T16:00Z","o":2580,"h":2585,"l":2404,"c":2408,"v":93,"r":41.1},
{"t":"2025-05-18T20:00Z","o":2408,"h":2512,"l":2323,"c":2499,"v":96,"r":46.6},
{"t":"2025-05-19T00:00Z","o":2499,"h":2514,"l":2380,"c":2385,"v":57,"r":40.5},
{"t":"2025-05-19T04:00Z","o":2385,"h":2414,"l":2349,"c":2404,"v":52,"r":41.6},
{"t":"2025-05-19T08:00Z","o":2403,"h":2424,"l":2391,"c":2417,"v":30,"r":43.3},
{"t":"2025-05-19T12:00Z","o":2416,"h":2475,"l":2385,"c":2468,"v":53,"r":47.7},
{"t":"2025-05-19T16:00Z","o":2466,"h":2548,"l":2452,"c":2520,"v":70,"r":52.2},
{"t":"2025-05-19T20:00Z","o":2519,"h":2535,"l":2492,"c":2528,"v":37,"r":54.1},
{"t":"2025-05-20T00:00Z","o":2527,"h":2589,"l":2512,"c":2554,"v":53,"r":55.8},
{"t":"2025-05-20T04:00Z","o":2554,"h":2579,"l":2522,"c":2532,"v":35,"r":54.1},
{"t":"2025-05-20T08:00Z","o":2532.3,"h":2540,"l":2492.58,"c":2516.95,"v":24,"r":52.2}
]},
"encoding":{"x":{"field":"t","type":"temporal","scale":{"type":"utc","domain":[1741796438400,1752597216000]},"axis":{"orient":"bottom","offset":-67,"title":null,"zindex":2,"grid":false,"domain":false,"ticks":false,"labelPadding":8,"labelFontSize":13.5,"labelColor":"#50535e","labelOverlap":false,"labelFlush":false,"labelAngle":0,"labelAlign":"center","values":[1742169600000,1742515200000,1742860800000,1743465600000,1743811200000,1744156800000,1744502400000,1744848000000,1745193600000,1745539200000,1746057600000,1746403200000,1746748800000,1747094400000,1747440000000,1747785600000,1748131200000,1748736000000,1749081600000,1749427200000,1749772800000,1750118400000,1750464000000,1750809600000,1751328000000,1751673600000,1752019200000],"labelExpr":"utcdate(datum.value)===1?utcFormat(datum.value,'%b'):utcFormat(datum.value,'%-d')","labelFontWeight":{"condition":{"test":"utcdate(datum.value)===1","value":"bold"},"value":"normal"}}}},
"layer":[
{"encoding":{"y":{"field":"p","type":"quantitative","scale":{"domain":[1141.1,3131.4]},"axis":null},"y2":{"field":"p2"},"x2":{"field":"t2"}},"layer":[
{"data":{"values":[{"t":"2025-03-13T05:48Z","t2":"2025-07-15T03:10Z","p":3087.4,"p2":1199.8}]},"mark":{"type":"rect","fill":"#b2b5be","stroke":"#5d606b","strokeWidth":1.5}},
{"data":{"values":[{"t":"2025-03-16T05:10Z","t2":"2025-07-10T23:45Z","p":2857.5,"p2":2637.5}]},"mark":{"type":"rect","fill":"#a58d96"}},
{"data":{"values":[{"t":"2025-05-19T02:24Z","t2":"2025-07-10T23:45Z","p":2292,"p2":2095.5}]},"mark":{"type":"rect","fill":"#c3c5cd"}}
]},
{"encoding":{"y":{"field":"r","type":"quantitative","scale":{"domain":[-895.6,121.9]},"axis":{"orient":"right","offset":-84,"title":null,"zindex":2,"grid":false,"domain":false,"ticks":false,"labelPadding":10,"labelFontSize":13.5,"labelColor":"#50535e","values":[40,80],"format":".2f"}}},"layer":[
{"data":{"values":[{"t":"2025-03-16T05:10Z","t2":"2025-07-10T23:45Z","r":70,"r2":30}]},"mark":{"type":"rect","fill":"#9fa2ab"},"encoding":{"x2":{"field":"t2"},"y2":{"field":"r2"}}},
{"data":{"values":[{"t":"2025-03-16T05:10Z","t2":"2025-07-10T23:45Z","r":70},{"t":"2025-03-16T05:10Z","t2":"2025-07-10T23:45Z","r":30}]},"mark":{"type":"rule","stroke":"#787b86","strokeWidth":1.2,"strokeDash":[6,5]},"encoding":{"x2":{"field":"t2"}}},
{"data":{"values":[{"t":"2025-03-16T05:10Z","t2":"2025-07-10T23:45Z","r":50}]},"mark":{"type":"rule","stroke":"#b2b5be","strokeWidth":1,"strokeDash":[6,5]},"encoding":{"x2":{"field":"t2"}}},
{"data":{"name":"candles"},"transform":[{"filter":"toDate(datum.t)>=1745352000000&&toDate(datum.t)<=1745438400000"}],"mark":{"type":"area","fill":{"x1":0,"y1":0,"x2":0,"y2":1,"gradient":"linear","stops":[{"offset":0,"color":"#7fae88"},{"offset":1,"color":"#a2aea8"}]}},"encoding":{"y2":{"datum":70}}},
{"data":{"name":"candles"},"transform":[{"filter":"toDate(datum.t)>=1746691200000&&toDate(datum.t)<=1746950400000"}],"mark":{"type":"area","fill":{"x1":0,"y1":0,"x2":0,"y2":1,"gradient":"linear","stops":[{"offset":0,"color":"#5ba868"},{"offset":1,"color":"#a4aea8"}]}},"encoding":{"y2":{"datum":70}}},
{"data":{"name":"candles"},"transform":[{"filter":"toDate(datum.t)>=1743120000000&&toDate(datum.t)<=1743393600000&&datum.r<30"}],"mark":{"type":"area","fill":{"x1":0,"y1":1,"x2":0,"y2":0,"gradient":"linear","stops":[{"offset":0,"color":"#e0a0a6"},{"offset":1,"color":"#b2aab2"}]}},"encoding":{"y2":{"datum":30}}},
{"data":{"name":"candles"},"transform":[{"filter":"toDate(datum.t)>=1743940800000&&toDate(datum.t)<=1743998400000"}],"mark":{"type":"area","fill":{"x1":0,"y1":1,"x2":0,"y2":0,"gradient":"linear","stops":[{"offset":0,"color":"#ec8f96"},{"offset":1,"color":"#b2a8b0"}]}},"encoding":{"y2":{"datum":30}}},
{"data":{"name":"candles"},"mark":{"type":"line","stroke":"#131722","strokeWidth":1.2}}
]},
{"data":{"name":"candles"},"mark":{"type":"rule","strokeWidth":1},"encoding":{"y":{"field":"v","type":"quantitative","scale":{"domain":[-67,1154]},"axis":null},"y2":{"datum":0},"color":{"condition":{"test":"datum.c>=datum.o","value":"#50535e"},"value":"#8a8c98"}}},
{"encoding":{"y":{"field":"p","type":"quantitative","scale":{"domain":[1141.1,3131.4]},"axis":{"orient":"right","offset":-84,"title":null,"zindex":2,"grid":false,"domain":false,"ticks":false,"labelPadding":10,"labelFontSize":13.5,"labelColor":"#50535e","values":[2800,2700,2600,2300,2200,2000,1900,1800,1700,1600,1500,1400,1300],"format":",.2f"}},"x2":{"field":"t2"},"y2":{"field":"p2"}},"layer":[
{"data":{"values":[{"t":"2025-03-13T05:48Z","t2":"2025-07-15T03:10Z","p":2906.4},{"t":"2025-03-13T05:48Z","t2":"2025-07-15T03:10Z","p":1250.4}]},"mark":{"type":"rule","stroke":"#434651","strokeWidth":1.5},"encoding":{"y2":null}},
{"data":{"values":[{"t":"2025-03-16T05:10Z","p":3087.4,"p2":1199.8},{"t":"2025-07-10T23:45Z","p":3087.4,"p2":1199.8}]},"mark":{"type":"rule","stroke":"#5d606b","strokeWidth":1.5},"encoding":{"x2":null}},
{"data":{"values":[{"t":"2025-03-16T05:10Z","t2":"2025-07-10T23:45Z","p":2516.95}]},"mark":{"type":"rule","stroke":"#363a45","strokeWidth":1,"strokeDash":[1.4,2.6]},"encoding":{"y2":null}},
{"data":{"values":[{"t":"2025-05-11T04:30Z","t2":"2025-07-10T23:45Z","p":2410.44},{"t":"2025-03-16T05:10Z","t2":"2025-07-10T23:45Z","p":2233.8},{"t":"2025-03-16T05:10Z","t2":"2025-07-10T23:45Z","p":2111}]},"mark":{"type":"rule","stroke":"#000000","strokeWidth":1.2,"strokeDash":[6,5]},"encoding":{"y2":null}},
{"data":{"name":"candles"},"mark":{"type":"rule","strokeWidth":1},"encoding":{"x2":null,"y":{"field":"h","type":"quantitative","scale":{"domain":[1141.1,3131.4]},"axis":null},"y2":{"field":"l"},"color":{"condition":{"test":"datum.c>=datum.o","value":"#1b5e20"},"value":"#801922"}}},
{"data":{"name":"candles"},"mark":{"type":"rule","strokeWidth":3},"encoding":{"x2":null,"y":{"field":"o","type":"quantitative","scale":{"domain":[1141.1,3131.4]},"axis":null},"y2":{"field":"c"},"color":{"condition":{"test":"datum.c>=datum.o","value":"#1b5e20"},"value":"#801922"}}},
{"data":{"values":[{"t":"2025-05-26T01:12Z","t2":"2025-06-16T00:40Z","p":2503.8,"p2":2225.1},{"t":"2025-06-15T16:48Z","t2":"2025-06-16T00:40Z","p":2238.3,"p2":2225.1},{"t":"2025-06-15T11:02Z","t2":"2025-06-16T00:40Z","p":2223.5,"p2":2225.1},{"t":"2025-06-23T01:00Z","t2":"2025-07-10T23:30Z","p":2259.3,"p2":2505.5}]},"mark":{"type":"rule","stroke":"#2a2e39","strokeWidth":1.1}},
{"data":{"values":[{"t":"2025-06-15T16:33Z","p":2039.3,"s":"Higher timeframe support zone."}]},"mark":{"type":"text","align":"center","baseline":"middle","font":"DejaVu Sans","fontStyle":"italic","fontSize":14.5,"color":"#000000"},"encoding":{"x2":null,"y2":null,"text":{"field":"s"}}},
{"data":{"values":[{"t":"2025-07-10T23:45Z","t2":"2025-07-14T21:50Z","p":2533.2,"p2":2472.9}]},"mark":{"type":"rect","fill":"#434651"}},
{"data":{"values":[{"t":"2025-07-10T23:45Z","t2":"2025-07-14T21:50Z","p":2427.2,"p2":2393.5},{"t":"2025-07-10T23:45Z","t2":"2025-07-14T21:50Z","p":2250.4,"p2":2217},{"t":"2025-07-10T23:45Z","t2":"2025-07-14T21:50Z","p":2128.1,"p2":2094.7}]},"mark":{"type":"rect","fill":"#000000"}},
{"data":{"values":[{"t":"2025-07-11T04:50Z","t2":"2025-07-14T21:50Z","p":2898.8,"p2":2855.9}]},"mark":{"type":"rect","fill":"#0f0f0f","stroke":"#5d606b","strokeWidth":1,"cornerRadius":4}},
{"data":{"values":[{"t":"2025-07-11T13:12Z","p":2516.95,"s":"2,516.95"},{"t":"2025-07-11T13:12Z","p":2410.44,"s":"2,410.44"},{"t":"2025-07-11T13:12Z","p":2233.8,"s":"2,233.80"},{"t":"2025-07-11T13:12Z","p":2111,"s":"2,111.00"}]},"mark":{"type":"text","align":"left","baseline":"middle","fontSize":13.5,"fontWeight":"bold","color":"#ffffff"},"encoding":{"x2":null,"y2":null,"text":{"field":"s"}}},
{"data":{"values":[{"t":"2025-07-11T13:12Z","p":2490.8,"s":"17:59"}]},"mark":{"type":"text","align":"left","baseline":"middle","fontSize":13,"color":"#d1d4dc"},"encoding":{"x2":null,"y2":null,"text":{"field":"s"}}},
{"data":{"values":[{"t":"2025-07-11T17:05Z","p":2877.1,"s":"USDT"}]},"mark":{"type":"text","align":"left","baseline":"middle","fontSize":11.5,"color":"#ffffff"},"encoding":{"x2":null,"y2":null,"text":{"field":"s"}}},
{"data":{"values":[{"t":"2025-03-13T05:48Z","p":3108.6,"s":"CryptoMichNL published on TradingView.com, May 20, 2025 11:42 UTC"}]},"mark":{"type":"text","align":"left","baseline":"middle","font":"Roboto","fontSize":12,"color":"#e6e6e6"},"encoding":{"x2":null,"y2":null,"text":{"field":"s"}}},
{"data":{"values":[{"t":"2025-03-14T12:46Z","p":1170.5,"s":"TradingView"}]},"mark":{"type":"text","align":"left","baseline":"middle","fontSize":13,"color":"#d1d4dc"},"encoding":{"x2":null,"y2":null,"text":{"field":"s"}}},
{"data":{"values":[{"t":"2025-03-16T17:15Z","p":2880.4,"s":"Ethereum / TetherUS · 4h · BINANCE"},{"t":"2025-03-28T02:30Z","p":2880.4,"s":"O"},{"t":"2025-03-31T13:55Z","p":2880.4,"s":"H"},{"t":"2025-04-04T02:07Z","p":2880.4,"s":"L"},{"t":"2025-04-07T10:05Z","p":2880.4,"s":"C"}]},"mark":{"type":"text","align":"left","baseline":"middle","fontSize":11.5,"color":"#5d606b"},"encoding":{"x2":null,"y2":null,"text":{"field":"s"}}},
{"data":{"values":[{"t":"2025-03-28T14:38Z","p":2880.4,"s":"2,532.30"},{"t":"2025-04-01T02:05Z","p":2880.4,"s":"2,540.00"},{"t":"2025-04-04T12:12Z","p":2880.4,"s":"2,492.58"},{"t":"2025-04-07T20:24Z","p":2880.4,"s":"2,516.95"},{"t":"2025-04-10T20:24Z","p":2880.4,"s":"−15.35 (−0.61%)"}]},"mark":{"type":"text","align":"left","baseline":"middle","fontSize":11.5,"color":"#801922"},"encoding":{"x2":null,"y2":null,"text":{"field":"s"}}},
{"data":{"values":[{"t":"2025-03-14T18:10Z","p":1225.4},{"t":"2025-07-13T01:30Z","p":1225.4}]},"mark":{"type":"point","shape":"circle","filled":true,"fill":"#7e7f87","opacity":1,"size":361},"encoding":{"x2":null,"y2":null}},
{"data":{"values":[{"t":"2025-03-14T18:10Z","p":1225.4,"s":"Z"}]},"mark":{"type":"text","align":"center","baseline":"middle","fontSize":11,"color":"#8e8f97"},"encoding":{"x2":null,"y2":null,"text":{"field":"s"}}},
{"data":{"values":[{"t":"2025-03-13T18:36Z","p":1170.5}]},"mark":{"type":"point","shape":"M-1,-0.5H-0.2V0.5H-0.55V-0.1H-1ZM-0.05,-0.5H0.25V-0.2H-0.05ZM0.35,-0.5H1L0.55,0.5H0Z","filled":true,"fill":"#f0f0f0","opacity":1,"size":361},"encoding":{"x2":null,"y2":null}},
{"data":{"values":[{"t":"2025-05-20T09:20Z","p":1270}]},"mark":{"type":"point","shape":"circle","filled":true,"fill":"#f4f0f6","opacity":1,"size":600},"encoding":{"x2":null,"y2":null}},
{"data":{"values":[{"t":"2025-05-20T09:20Z","p":1270}]},"mark":{"type":"point","shape":"circle","filled":false,"stroke":"#9c27b0","strokeWidth":2.2,"opacity":1,"size":400},"encoding":{"x2":null,"y2":null}},
{"data":{"values":[{"t":"2025-05-20T09:20Z","p":1270}]},"mark":{"type":"point","shape":"M0.25,-0.9L-0.55,0.15H-0.05L-0.25,0.9L0.55,-0.15H0.05Z","filled":true,"fill":"#9c27b0","opacity":1,"size":160},"encoding":{"x2":null,"y2":null}},
{"data":{"values":[{"t":"2025-05-20T18:40Z","p":1283}]},"mark":{"type":"point","shape":"circle","filled":true,"fill":"#f23645","stroke":"#ffffff","strokeWidth":1,"opacity":1,"size":36},"encoding":{"x2":null,"y2":null}}
]},
{"data":{"values":[{"t":"2025-03-16T05:10Z","f":0.6},{"t":"2025-03-16T05:10Z","f":-0.55}]},"mark":{"type":"point","opacity":0},"encoding":{"y":{"field":"f","type":"quantitative","scale":{"domain":[-0.6799,0.7889]},"axis":{"orient":"left","offset":-63,"title":null,"zindex":2,"grid":false,"domain":false,"ticks":false,"labelPadding":9,"labelFontSize":13.5,"labelColor":"#5d606b","values":[0.6,0.55,0.5,0.45,0.4,0.35,0.3,0.25,0.2,0.15,0.1,0.05,0,-0.05,-0.1,-0.15,-0.2,-0.25,-0.3,-0.35,-0.4,-0.45,-0.5,-0.55],"format":".2f"}}}}
],
"resolve":{"scale":{"y":"independent"},"axis":{"y":"independent"}}}
